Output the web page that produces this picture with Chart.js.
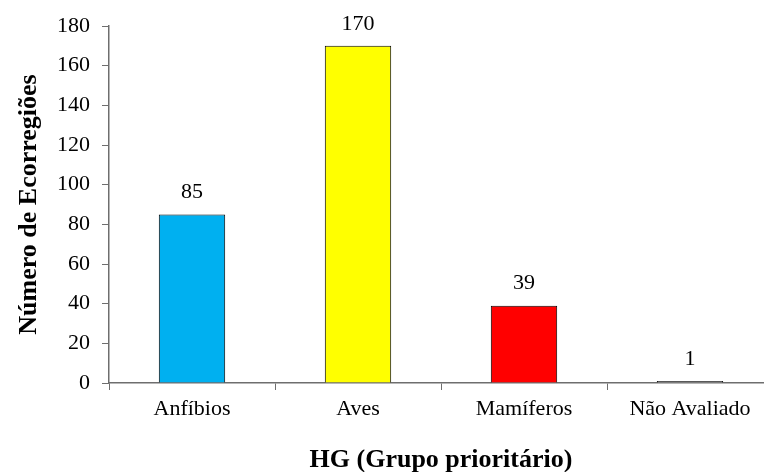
<!DOCTYPE html>
<html>
<head>
<meta charset="utf-8">
<script src="https://cdn.jsdelivr.net/npm/chart.js@4/dist/chart.umd.min.js"></script>
<style>
  html, body { margin: 0; padding: 0; background: #fff; overflow: hidden; }
  #wrap { width: 774px; height: 480px; }
</style>
</head>
<body>
<div id="wrap"><canvas id="chart" width="774" height="480"></canvas></div>
<script>
// data
const categories = ['Anfíbios', 'Aves', 'Mamíferos', 'Não Avaliado'];
const counts = [85, 170, 39, 1];
const barColors = ['#00B0F0', '#FFFF00', '#FF0000', '#A6A6A6'];
const yTicks = [0, 20, 40, 60, 80, 100, 120, 140, 160, 180];

const SERIF = '"Liberation Serif", "Times New Roman", serif';
const AXIS = '#6e6e6e';

// value labels above bars
const valueLabels = {
  id: 'valueLabels',
  afterDatasetsDraw(chart) {
    const ctx = chart.ctx;
    const meta = chart.getDatasetMeta(0);
    ctx.save();
    ctx.font = '22px ' + SERIF;
    ctx.fillStyle = '#000';
    ctx.textAlign = 'center';
    ctx.textBaseline = 'bottom';
    meta.data.forEach((bar, i) => {
      ctx.fillText(String(counts[i]), bar.x, bar.y - 11);
    });
    ctx.restore();
  }
};

new Chart(document.getElementById('chart'), {
  type: 'bar',
  data: {
    labels: categories,
    datasets: [{
      data: counts,
      backgroundColor: barColors,
      borderColor: '#000',
      borderWidth: 1,
      barPercentage: 0.4,
      categoryPercentage: 1
    }]
  },
  options: {
    responsive: false,
    animation: false,
    layout: { padding: { top: 26, right: 1, left: 0, bottom: 0 } },
    plugins: {
      legend: { display: false },
      tooltip: { enabled: false }
    },
    scales: {
      x: {
        grid: { drawOnChartArea: false, drawTicks: true, tickLength: 7, color: AXIS },
        border: { color: AXIS, width: 1.5 },
        ticks: { color: '#000', font: { family: SERIF, size: 22 }, padding: 6 },
        title: {
          display: true,
          text: 'HG (Grupo prioritário)',
          color: '#000',
          font: { family: SERIF, size: 26, weight: 'bold' },
          padding: { top: 18 }
        },
        afterFit(scale) { scale.height = 97; }
      },
      y: {
        min: 0,
        max: 180,
        afterBuildTicks(scale) { scale.ticks = yTicks.map(v => ({ value: v })); },
        grid: { drawOnChartArea: false, drawTicks: true, tickLength: 7, color: AXIS },
        border: { color: AXIS, width: 1.5 },
        ticks: { color: '#000', font: { family: SERIF, size: 22 }, padding: 12 },
        title: {
          display: true,
          text: 'Número de Ecorregiões',
          color: '#000',
          font: { family: SERIF, size: 26, weight: 'bold' },
          padding: { top: 14 }
        },
        afterFit(scale) { scale.width = 109; }
      }
    }
  },
  plugins: [valueLabels]
});
</script>
</body>
</html>
